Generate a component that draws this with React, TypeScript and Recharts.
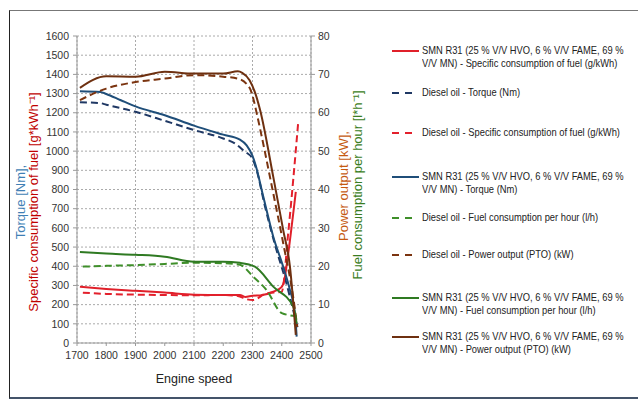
import { LineChart, Line, XAxis, YAxis, CartesianGrid } from "recharts";

// engine speed ticks
const RPM_TICKS = [1700, 1800, 1900, 2000, 2100, 2200, 2300, 2400, 2500];
const LEFT_TICKS = [0, 100, 200, 300, 400, 500, 600, 700, 800, 900, 1000, 1100, 1200, 1300, 1400, 1500, 1600];
const RIGHT_TICKS = [0, 10, 20, 30, 40, 50, 60, 70, 80];

// [rpm, value]
const smnSpecific: [number, number][] = [
  [1710, 293], [1800, 282], [1900, 272], [2000, 263], [2100, 252], [2200, 250],
  [2257, 250], [2275, 240], [2300, 246], [2326, 248], [2371, 267], [2400, 293],
  [2411, 345], [2416, 397], [2448, 788],
];
const dieselTorque: [number, number][] = [
  [1710, 1255], [1780, 1250], [1800, 1242], [1900, 1205], [2000, 1158], [2100, 1110],
  [2200, 1066], [2240, 1040], [2270, 1002], [2300, 960], [2314, 901], [2343, 710],
  [2382, 485], [2416, 311], [2439, 172], [2456, 68],
];
const dieselSpecific: [number, number][] = [
  [1720, 262], [1800, 256], [1900, 252], [2000, 250], [2100, 249], [2200, 250],
  [2250, 245], [2280, 228], [2302, 224], [2348, 259], [2400, 267], [2422, 572], [2456, 1145],
];
const smnTorque: [number, number][] = [
  [1710, 1312], [1780, 1308], [1800, 1298], [1850, 1265], [1900, 1233], [2000, 1187],
  [2100, 1133], [2200, 1086], [2257, 1060], [2280, 1030], [2300, 975], [2310, 930],
  [2337, 762], [2371, 554], [2405, 397], [2428, 276], [2445, 155], [2451, 33],
];
const dieselFuel: [number, number][] = [
  [1720, 19.9], [1800, 20.1], [1900, 20.3], [2000, 20.6], [2100, 20.9], [2200, 20.8],
  [2257, 20.4], [2302, 17.3], [2348, 13.8], [2400, 7.8], [2450, 7.0],
];
const dieselPower: [number, number][] = [
  [1710, 63.3], [1800, 66.3], [1900, 68], [2000, 68.9], [2100, 69.8], [2200, 69.4],
  [2250, 68.9], [2290, 66.5], [2305, 63], [2314, 60], [2371, 39], [2405, 26],
  [2439, 12], [2453, 4.2],
];
const smnFuel: [number, number][] = [
  [1710, 23.7], [1800, 23.3], [1900, 23], [2000, 22.5], [2100, 21.2], [2200, 21.2],
  [2257, 20.9], [2308, 19.9], [2371, 14.7], [2439, 9.5], [2451, 5.1],
];
const smnPower: [number, number][] = [
  [1710, 66.5], [1800, 69.5], [1900, 69.4], [2000, 70.7], [2100, 70.2], [2200, 70.2],
  [2250, 70.8], [2265, 70.4], [2290, 68.5], [2310, 65], [2326, 60.7], [2371, 43.3],
  [2405, 29.4], [2428, 19.9], [2448, 2.1],
];

const SMN = "SMN R31 (25 % V/V HVO, 6 % V/V FAME, 69 %";

const SERIES = [
  { key: "smnSpecific", data: smnSpecific, axis: "left", color: "#e0202a", dash: false, label: [SMN, "V/V MN) - Specific consumption of fuel (g/kWh)"] },
  { key: "dieselTorque", data: dieselTorque, axis: "left", color: "#1f3864", dash: true, label: ["Diesel oil -  Torque (Nm)"] },
  { key: "dieselSpecific", data: dieselSpecific, axis: "left", color: "#e3202c", dash: true, label: ["Diesel oil -  Specific consumption of fuel (g/kWh)"] },
  { key: "smnTorque", data: smnTorque, axis: "left", color: "#1f4e79", dash: false, label: [SMN, "V/V MN) - Torque (Nm)"] },
  { key: "dieselFuel", data: dieselFuel, axis: "right", color: "#3f8f2a", dash: true, label: ["Diesel oil -  Fuel consumption per hour  (l/h)"] },
  { key: "dieselPower", data: dieselPower, axis: "right", color: "#7b3410", dash: true, label: ["Diesel oil -  Power output (PTO) (kW)"] },
  { key: "smnFuel", data: smnFuel, axis: "right", color: "#2f7a22", dash: false, label: [SMN, "V/V MN) - Fuel consumption per hour  (l/h)"] },
  { key: "smnPower", data: smnPower, axis: "right", color: "#6e3010", dash: false, label: [SMN, "V/V MN) - Power output (PTO) (kW)"] },
];

const LEGEND_TOPS = [51, 93, 133, 177, 218, 255, 298, 337];

const tickStyle = { fill: "#333", fontSize: 10.5, fontFamily: "'Liberation Sans', Arial, sans-serif" };

export default function App() {
  return (
    <div style={{ position: "absolute", left: 0, top: 0, width: 638, height: 399, background: "#fff", overflow: "hidden", fontFamily: "'Liberation Sans', Arial, sans-serif" }}>
      {/* frame */}
      <div style={{ position: "absolute", left: 9, top: 10, width: 640, height: 386, borderTop: "1px solid #777", borderLeft: "1px solid #222", borderBottom: "2px solid #44546a" }} />

      <LineChart width={638} height={399} margin={{ top: 36, right: 297, bottom: 26, left: 37 }} style={{ position: "absolute", left: 0, top: 0 }}>
        <CartesianGrid stroke="#aaa" strokeDasharray="2 2" yAxisId="left" horizontalValues={LEFT_TICKS} verticalValues={RPM_TICKS} />
        <XAxis
          dataKey="x"
          type="number"
          domain={[1700, 2500]}
          ticks={RPM_TICKS}
          allowDuplicatedCategory={false}
          tick={tickStyle}
          stroke="#999"
          tickSize={3}
          tickMargin={6}
          height={30}
        />
        <YAxis yAxisId="left" domain={[0, 1600]} ticks={LEFT_TICKS} tick={tickStyle} stroke="#999" tickSize={4} tickMargin={4} width={40} interval={0} />
        <YAxis yAxisId="right" orientation="right" domain={[0, 80]} ticks={RIGHT_TICKS} tick={tickStyle} stroke="#999" tickSize={4} tickMargin={3} width={30} interval={0} />
        {SERIES.map((s) => (
          <Line
            key={s.key}
            yAxisId={s.axis}
            data={s.data.map(([x, y]) => ({ x, y }))}
            dataKey="y"
            type="monotone"
            stroke={s.color}
            strokeWidth={2}
            strokeDasharray={s.dash ? "7 4" : undefined}
            dot={false}
            isAnimationActive={false}
          />
        ))}
      </LineChart>

      {/* axis titles */}
      <div style={{ position: "absolute", left: 27, top: 202, transform: "translate(-50%,-50%) rotate(-90deg)", whiteSpace: "nowrap", fontSize: 13, lineHeight: "13px", textAlign: "center" }}>
        <div style={{ color: "#3f7fb5" }}>Torque [Nm],</div>
        <div style={{ color: "#c00000" }}>Specific consumption of fuel [g*kWh⁻¹]</div>
      </div>
      <div style={{ position: "absolute", left: 343, top: 186, transform: "translate(-50%,-50%) rotate(-90deg)", whiteSpace: "nowrap", fontSize: 13, color: "#c55a11" }}>
        Power output [kW],
      </div>
      <div style={{ position: "absolute", left: 357, top: 185, transform: "translate(-50%,-50%) rotate(-90deg)", whiteSpace: "nowrap", fontSize: 13, color: "#3a7d22" }}>
        Fuel consumption per hour [l*h⁻¹]
      </div>
      <div style={{ position: "absolute", left: 194, top: 379, transform: "translate(-50%,-50%)", whiteSpace: "nowrap", fontSize: 12.5, color: "#222" }}>
        Engine speed
      </div>

      {/* legend */}
      {SERIES.map((s, i) => (
        <div key={s.key} style={{ position: "absolute", left: 392, top: LEGEND_TOPS[i] - 7, fontSize: 11, lineHeight: "13px", color: "#222" }}>
          <svg width={30} height={14} style={{ position: "absolute", left: 0, top: 0 }}>
            <line x1={0} x2={s.dash ? 20 : 27} y1={7} y2={7} stroke={s.color} strokeWidth={2} strokeDasharray={s.dash ? "7 6" : undefined} />
          </svg>
          <div style={{ marginLeft: 30, whiteSpace: "nowrap", transform: "scaleX(0.85)", transformOrigin: "left top" }}>
            {s.label.map((l) => (
              <div key={l}>{l}</div>
            ))}
          </div>
        </div>
      ))}
    </div>
  );
}
